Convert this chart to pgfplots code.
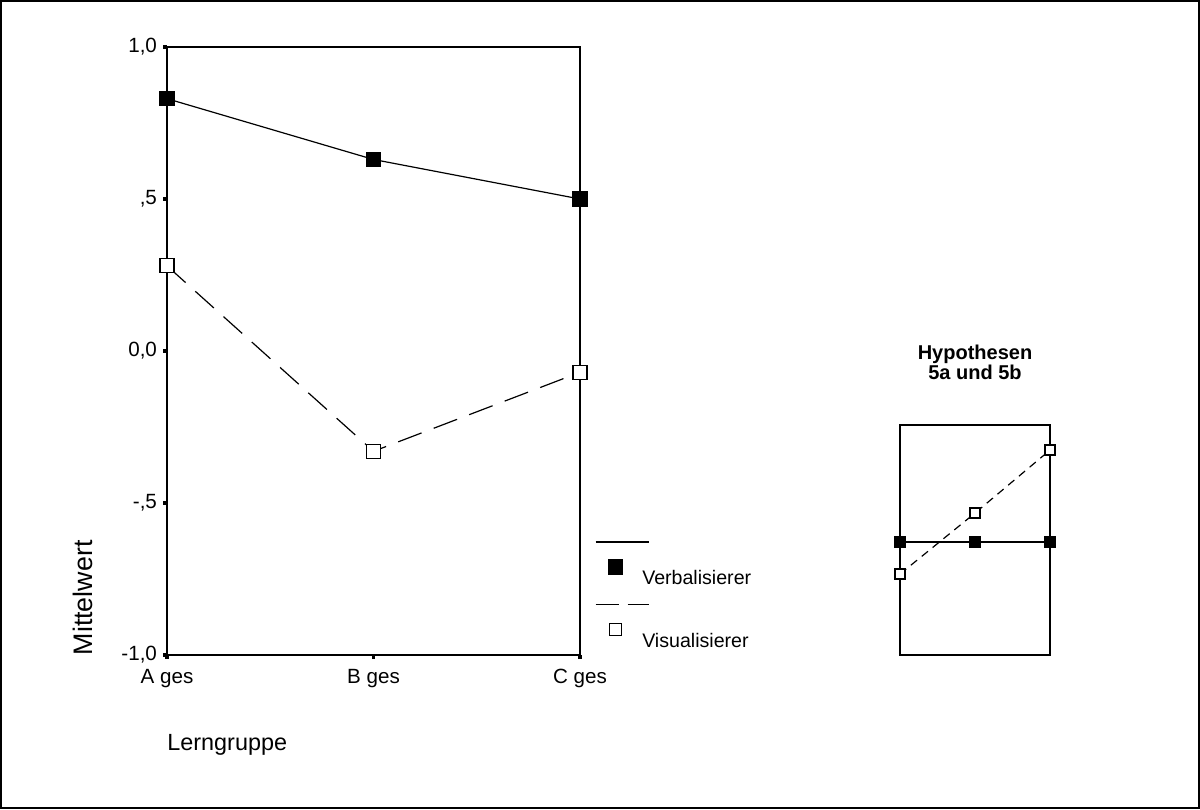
\documentclass[border=0pt]{standalone}
\usepackage{fontspec}
\setmainfont{Liberation Sans}
\usepackage{pgfplots}
\pgfplotsset{compat=1.18}

\begin{document}
\begin{tikzpicture}
  % outer frame (1px = 0.5pt)
  \draw[line width=1pt] (0.5pt,0.5pt) rectangle (599.5pt,404pt);

  \begin{axis}[
    at={(83.5pt,77pt)}, anchor=south west,
    scale only axis, width=206.5pt, height=304pt,
    xmin=0, xmax=2, ymin=-1, ymax=1,
    clip=false,
    axis line style={line width=0.8pt},
    xtick={0,1,2}, xticklabels={A ges, B ges, C ges},
    ytick={-1,-0.5,0,0.5,1},
    yticklabels={{-1,0},{-,5},{0,0},{,5},{1,0}},
    xtick pos=left, ytick pos=left, tick align=outside,
    major tick length=2pt,
    tick style={line width=1.6pt, black},
    tick label style={font=\fontsize{10.3}{11}\selectfont},
    xticklabel style={yshift=-1.5pt},
    yticklabel style={xshift=0.5pt},
    xlabel={Lerngruppe},
    xlabel style={at={(axis description cs:0,-0.148)}, anchor=west, inner sep=0pt,
      font=\fontsize{11.7}{13}\selectfont},
    ylabel={Mittelwert},
    ylabel style={at={(axis description cs:-0.203,0.094)}, anchor=center, inner sep=0pt,
      font=\fontsize{13.4}{15}\selectfont},
    legend style={at={(axis description cs:1.067,0.158)}, anchor=north west, draw=none, fill=none,
      inner sep=0pt, font=\fontsize{9.8}{11}\selectfont, row sep=15.5pt, column sep=0pt},
    legend cell align=left,
  ]
    \addplot[black, line width=0.6pt, mark=square*, mark size=3.5pt,
      mark options={solid, fill=black},
      legend image code/.code={
        \draw[black, solid, line width=0.6pt, overlay] (-10pt,18.7pt) -- (16.5pt,18.7pt);
        \fill[black] (-3.5pt,2.7pt) rectangle (3.5pt,9.7pt);
        \path (11pt,6.2pt);
      }]
      coordinates {(0,0.83) (1,0.63) (2,0.50)};
    \addlegendentry{Verbalisierer}

    \addplot[black, line width=0.6pt, dash pattern=on 12.5pt off 6.5pt, mark=square*, mark size=3.5pt,
      mark options={solid, fill=white},
      legend image code/.code={
        \draw[black, line width=0.6pt, dash pattern=on 11.5pt off 4.5pt, overlay] (-10pt,18.7pt) -- (16.5pt,18.7pt);
        \draw[black, solid, line width=0.6pt, fill=white] (-3pt,3.2pt) rectangle (3pt,9.2pt);
        \path (11pt,6.2pt);
      }]
      coordinates {(0,0.28) (1,-0.33) (2,-0.07)};
    \addlegendentry{Visualisierer}
  \end{axis}

  \begin{axis}[
    at={(450pt,77pt)}, anchor=south west,
    scale only axis, width=75pt, height=115pt,
    xmin=0, xmax=2, ymin=0, ymax=1,
    clip=false,
    axis line style={line width=0.7pt},
    xtick=\empty, ytick=\empty,
    title={Hypothesen\\5a und 5b},
    title style={align=center, font=\bfseries\fontsize{10}{10}\selectfont, yshift=13pt},
  ]
    \addplot[black, line width=0.6pt, mark=square*, mark size=2.5pt,
      mark options={solid, fill=black}]
      coordinates {(0,0.491) (1,0.491) (2,0.491)};
    \addplot[black, line width=0.6pt, dash pattern=on 4pt off 3pt, mark=square*, mark size=2.5pt,
      mark options={solid, fill=white}]
      coordinates {(0,0.352) (1,0.617) (2,0.891)};
  \end{axis}
\end{tikzpicture}
\end{document}
